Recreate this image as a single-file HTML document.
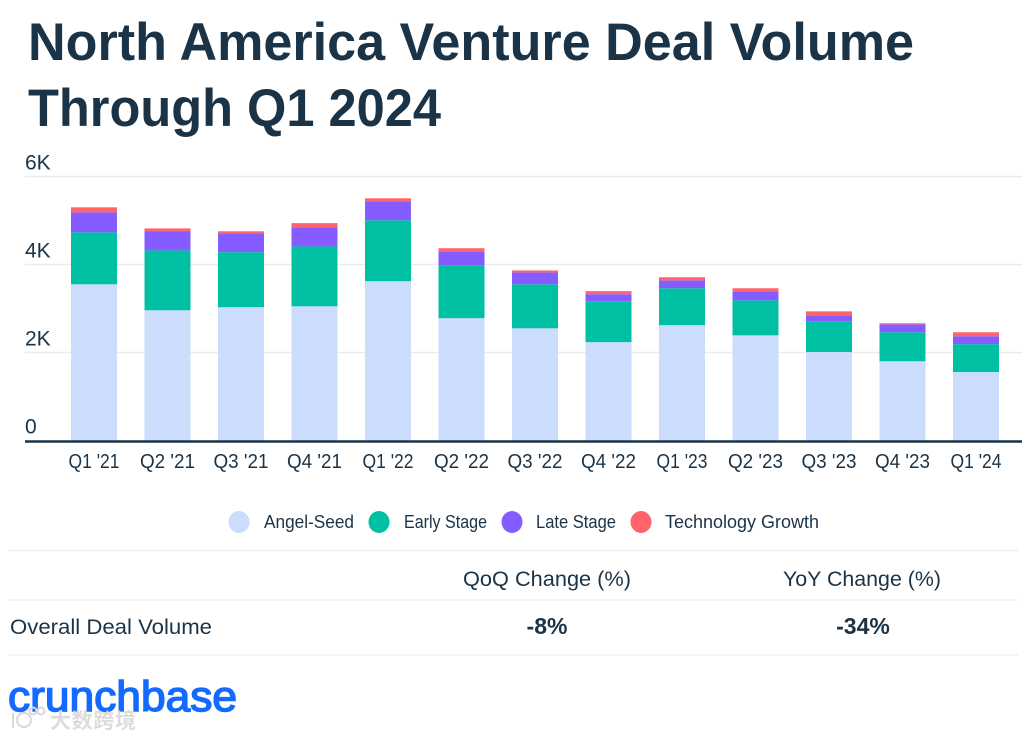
<!DOCTYPE html>
<html lang="en">
<head>
<meta charset="utf-8">
<title>North America Venture Deal Volume Through Q1 2024</title>
<style>
html,body{margin:0;padding:0;background:#fff;width:1030px;height:738px;overflow:hidden}
svg{display:block}
text{font-family:"Liberation Sans","Noto Sans CJK SC",sans-serif;fill:#1b3347}
</style>
</head>
<body>
<svg id="chart" width="1030" height="738" viewBox="0 0 1030 738" xmlns="http://www.w3.org/2000/svg">
  <rect width="1030" height="738" fill="#ffffff"/>
  <text x="28" y="60" font-size="53" font-weight="700" textLength="886" lengthAdjust="spacingAndGlyphs">North America Venture Deal Volume</text>
  <text x="28" y="126" font-size="53" font-weight="700" textLength="413" lengthAdjust="spacingAndGlyphs">Through Q1 2024</text>
  <g id="grid"></g>
  <g id="bars"></g>
  <line x1="25" x2="1022" y1="441.5" y2="441.5" stroke="#1b3347" stroke-width="2.4"/>
  <g id="xlabels"></g>
  <g id="legend"></g>

  <line x1="8" x2="1018" y1="550.5" y2="550.5" stroke="#eef0f2" stroke-width="1.5"/>
  <line x1="8" x2="1018" y1="600" y2="600" stroke="#eef0f2" stroke-width="1.5"/>
  <line x1="8" x2="1018" y1="655" y2="655" stroke="#eef0f2" stroke-width="1.5"/>
  <text x="547" y="586" font-size="21" text-anchor="middle" textLength="168" lengthAdjust="spacingAndGlyphs">QoQ Change (%)</text>
  <text x="862" y="586" font-size="21" text-anchor="middle" textLength="158" lengthAdjust="spacingAndGlyphs">YoY Change (%)</text>
  <text x="10" y="634" font-size="21.5" textLength="202" lengthAdjust="spacingAndGlyphs">Overall Deal Volume</text>
  <text x="547" y="634" font-size="23" font-weight="700" text-anchor="middle">-8%</text>
  <text x="863" y="634" font-size="23" font-weight="700" text-anchor="middle">-34%</text>

  <text x="8" y="711" font-size="43" textLength="229" lengthAdjust="spacingAndGlyphs" stroke="#146aff" stroke-width="1.5" style="fill:#146aff">crunchbase</text>
  <text x="50" y="728" font-size="21" font-weight="700" textLength="86" style="fill:#d4d4d4" opacity="0.8">大数跨境</text>
  <g fill="none" stroke="#d8d8d8" stroke-width="2">
    <line x1="13" y1="713" x2="13" y2="728"/>
    <circle cx="24" cy="720" r="7"/>
    <circle cx="33" cy="711" r="3.5"/>
    <circle cx="41" cy="711" r="3.5"/>
  </g>
</svg>
<script>
const categories = ["Q1 '21","Q2 '21","Q3 '21","Q4 '21","Q1 '22","Q2 '22","Q3 '22","Q4 '22","Q1 '23","Q2 '23","Q3 '23","Q4 '23","Q1 '24"];
const angelSeed = [3550,2960,3030,3050,3620,2780,2550,2235,2620,2390,2010,1800,1555];
const earlyStage = [1180,1360,1250,1360,1385,1200,1000,930,840,795,700,660,635];
const lateStage = [455,430,430,430,430,320,270,160,180,205,135,180,180];
const technologyGrowth = [115,70,45,100,70,70,45,70,70,70,90,25,90];
const yTicks = [0,2000,4000,6000];
const yTickLabels = ["0","2K","4K","6K"];
const seriesNames = ["Angel-Seed","Early Stage","Late Stage","Technology Growth"];

const NS = 'http://www.w3.org/2000/svg';
const colors = ['#cbdcfd','#00c0a3','#855cff','#ff636b'];
const seriesData = [angelSeed, earlyStage, lateStage, technologyGrowth];
const yMax = 6000, y0 = 440.5, y1 = 176.5;
const xStart = 57.25, band = 73.5, barW = 46;
function yScale(v){ return y0 - (v / yMax) * (y0 - y1); }
function xCenter(i){ return xStart + band * (i + 0.5); }
function make(tag, attrs, parent, txt){
  const el = document.createElementNS(NS, tag);
  for (const k in attrs) el.setAttribute(k, attrs[k]);
  if (txt !== undefined) el.textContent = txt;
  parent.appendChild(el);
  return el;
}

const grid = document.getElementById('grid');
yTicks.forEach(function(t, i){
  if (t !== 0) {
    const gl = make('line', {x1:25, x2:1022, y1:yScale(t), y2:yScale(t), stroke:'#e9ebee', 'stroke-width':1.4}, grid);
    
    
  }
  const lb = make('text', {x:25, y:yScale(t) - 7, 'font-size':21}, grid, yTickLabels[i]);
  
  
});

const bars = document.getElementById('bars');
categories.forEach(function(c, i){
  let acc = 0;
  seriesData.forEach(function(s, k){
    const top = yScale(acc + s[i]), bot = yScale(acc);
    const r = make('rect', {x:xCenter(i) - barW / 2, y:top, width:barW, height:bot - top, fill:colors[k]}, bars);
    
    
    acc += s[i];
  });
});

const xl = document.getElementById('xlabels');
categories.forEach(function(c, i){
  const labelW = c.indexOf('Q1') === 0 ? 51 : 55;
  const t = make('text', {x:xCenter(i), y:468, 'font-size':20, 'text-anchor':'middle', textLength:labelW, lengthAdjust:'spacingAndGlyphs'}, xl, c);
  
  
});

const legendCircleX = [239,379,512,641];
const legendTextX = [264,404,536,665];
const legendTextW = [90,83,80,154];
const legend = document.getElementById('legend');
seriesNames.forEach(function(n, i){
  const g = make('g', {}, legend);
  
  
  const dot = make('ellipse', {cx:legendCircleX[i], cy:522, rx:10.5, ry:11, fill:colors[i]}, g);
  
  
  const t = make('text', {x:legendTextX[i], y:528, 'font-size':18.5, textLength:legendTextW[i], lengthAdjust:'spacingAndGlyphs'}, g, n);
  
  
});
</script>
</body>
</html>
